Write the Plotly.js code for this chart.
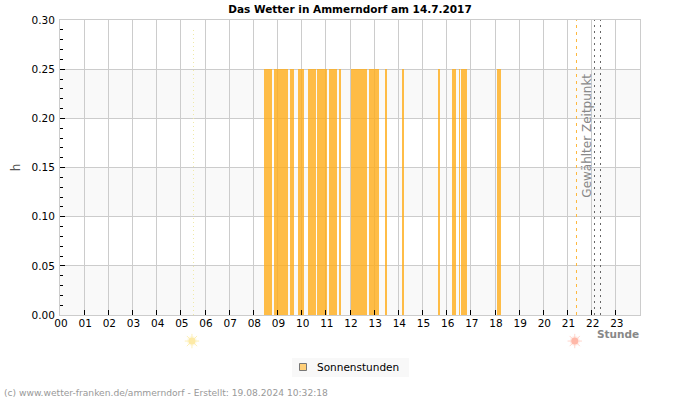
<!DOCTYPE html>
<html>
<head>
<meta charset="utf-8">
<script src="https://cdn.plot.ly/plotly-3.0.1.min.js"></script>
<style>html,body{margin:0;padding:0;background:#fff}#chart{width:700px;height:400px}</style>
</head>
<body>
<div id="chart"></div>
<script>
// Sunshine periods of the day: start and end in decimal hours
const sunStart = [8.44, 8.85, 9.51, 9.84, 10.26, 10.64, 11.13, 11.55, 12.04, 12.79, 13.45, 14.15, 15.64, 16.22, 16.49, 16.59, 18.08];
const sunEnd   = [8.77, 9.43, 9.68, 10.09, 10.59, 11.05, 11.46, 11.64, 12.70, 13.21, 13.53, 14.23, 15.72, 16.38, 16.55, 16.84, 18.25];
const sunValue = [0.25, 0.25, 0.25, 0.25, 0.25, 0.25, 0.25, 0.25, 0.25, 0.25, 0.25, 0.25, 0.25, 0.25, 0.25, 0.25, 0.25];

const hourTicks = [0,1,2,3,4,5,6,7,8,9,10,11,12,13,14,15,16,17,18,19,20,21,22,23];
const hourLabels = ['00','01','02','03','04','05','06','07','08','09','10','11','12','13','14','15','16','17','18','19','20','21','22','23'];

const bandLow = [0, 0.10, 0.20];
const bandHigh = [0.05, 0.15, 0.25];

const sunriseHour = 5.524;
const sunriseIconHour = 5.46;
const sunsetIconHour = 21.3;
const selectedHour = 21.372;
const markerHours = [22.117, 22.366];
const iconLevel = -0.0265;

const FONT = 'DejaVu Sans, sans-serif';
const SIZE = 10.5;

// Layout frame in page pixels
const W = 700, H = 400, L = 60, R = 640, T = 20, B = 315, AREA_B = 360;
const plotW = R - L, plotH = AREA_B - T;
const px = v => (v - L) / plotW;
const py = v => (AREA_B - v) / plotH;

// One glyph: faint halo, rays and a solid core on the strip below the axis
function sunGlyph(hour, halo, rays, core) {
  const base = {type: 'scatter', mode: 'markers', x: [hour], y: [iconLevel], xaxis: 'x2', yaxis: 'y2', showlegend: false, hoverinfo: 'skip'};
  return [
    Object.assign({}, base, {marker: {symbol: 'circle', size: 10, color: halo}}),
    Object.assign({}, base, {marker: {symbol: 'asterisk', size: 12, line: {color: rays, width: 1}}}),
    Object.assign({}, base, {marker: {symbol: 'circle', size: 7, color: core}})
  ];
}

const traces = [
  {
    type: 'bar',
    name: 'Sonnenstunden',
    x: sunStart.map((s, i) => (s + sunEnd[i]) / 2),
    width: sunStart.map((s, i) => sunEnd[i] - s),
    y: sunValue,
    marker: {color: 'rgba(255,172,25,0.8)', line: {width: 0}},
    showlegend: false,
    hoverinfo: 'skip'
  },
  ...sunGlyph(sunriseIconHour, 'rgba(253,236,170,0.25)', '#fdf0b8', '#fdeaa6'),
  ...sunGlyph(sunsetIconHour, 'rgba(255,190,175,0.25)', '#ffd6cc', '#ffb8a8')
];

const shapes = [];
bandLow.forEach((lo, i) => shapes.push({
  type: 'rect', xref: 'paper', x0: 0, x1: 1, yref: 'y', y0: lo, y1: bandHigh[i],
  fillcolor: '#f9f9f9', line: {width: 0}, layer: 'below'
}));
shapes.push({type: 'line', xref: 'x', x0: sunriseHour, x1: sunriseHour, yref: 'y', y0: 0, y1: 0.29,
  line: {color: '#efe9a8', width: 1, dash: '1px,3px'}, layer: 'above'});
shapes.push({type: 'line', xref: 'x', x0: selectedHour, x1: selectedHour, yref: 'y', y0: 0, y1: 0.30,
  line: {color: '#fdb93f', width: 1, dash: '3px,4px'}, layer: 'above'});
markerHours.forEach(h => shapes.push({type: 'line', xref: 'x', x0: h, x1: h, yref: 'y', y0: 0, y1: 0.30,
  line: {color: '#666666', width: 1, dash: '2px,4px'}, layer: 'above'}));
// Legend box and swatch
shapes.push({type: 'rect', xref: 'paper', yref: 'paper', x0: px(292), x1: px(409), y0: py(377), y1: py(358),
  fillcolor: '#f8f8f8', line: {width: 0}, layer: 'below'});
shapes.push({type: 'rect', xref: 'paper', yref: 'paper', x0: px(299.5), x1: px(306.5), y0: py(370.5), y1: py(363.5),
  fillcolor: '#ffcf78', line: {color: '#777777', width: 1}, layer: 'above'});

const layout = {
  width: W, height: H,
  margin: {l: L, r: W - R, t: T, b: H - AREA_B},
  paper_bgcolor: '#ffffff', plot_bgcolor: 'rgba(0,0,0,0)',
  font: {family: FONT, size: SIZE, color: '#000000'},
  title: {text: '<b>Das Wetter in Ammerndorf am 14.7.2017</b>', font: {family: FONT, size: SIZE, color: '#000'},
    x: 0.5, xanchor: 'center', y: 1 - 9 / H, yanchor: 'middle'},
  bargap: 0,
  showlegend: false,
  xaxis: {
    range: [0, 24], tickmode: 'array', tickvals: hourTicks, ticktext: hourLabels,
    anchor: 'y',
    ticks: 'inside', ticklen: 5, tickcolor: '#000', tickwidth: 1,
    ticklabelstandoff: -2, ticklabelshift: 1,
    showgrid: true, gridcolor: '#cccccc', gridwidth: 1, zeroline: false,
    showline: true, linecolor: '#cccccc', linewidth: 1, mirror: true,
    tickfont: {family: FONT, size: SIZE, color: '#000'}, tickangle: 0, fixedrange: true
  },
  yaxis: {
    domain: [(AREA_B - B) / plotH, 1],
    anchor: 'x',
    range: [0, 0.30], tickmode: 'linear', tick0: 0, dtick: 0.05, tickformat: '.2f',
    ticks: 'inside', ticklen: 5, tickcolor: '#000', tickwidth: 1,
    ticklabelstandoff: 2,
    minor: {dtick: 0.01, ticks: 'inside', ticklen: 3, tickcolor: '#000', tickwidth: 1, showgrid: false},
    showgrid: true, gridcolor: '#cccccc', gridwidth: 1, zeroline: false,
    showline: true, linecolor: '#cccccc', linewidth: 1, mirror: true,
    tickfont: {family: FONT, size: SIZE, color: '#000'},
    title: {text: 'h', font: {family: FONT, size: 12, color: '#555'}, standoff: 8}, fixedrange: true
  },
  // Strip under the hour axis that carries the sunrise and sunset glyphs
  xaxis2: {
    range: [0, 24], anchor: 'y2', visible: false, fixedrange: true
  },
  yaxis2: {
    domain: [0, (AREA_B - B) / plotH],
    range: [-(AREA_B - B) * 0.3 / (B - T), 0],
    anchor: 'x2', visible: false, fixedrange: true
  },
  shapes: shapes,
  annotations: [
    {xref: 'x', yref: 'y', x: selectedHour + 0.42, y: 0.182, text: 'Gewählter Zeitpunkt', textangle: -90, showarrow: false,
      xanchor: 'center', yanchor: 'middle', font: {family: FONT, size: 12, color: '#888888'}},
    {xref: 'paper', yref: 'paper', x: px(618), y: py(334), text: '<b>Stunde</b>', showarrow: false,
      xanchor: 'center', yanchor: 'middle', borderpad: 0, font: {family: FONT, size: SIZE, color: '#888888'}},
    {xref: 'paper', yref: 'paper', x: px(316), y: py(367), text: 'Sonnenstunden', showarrow: false,
      xanchor: 'left', yanchor: 'middle', borderpad: 0, font: {family: FONT, size: SIZE, color: '#000000'}},
    {xref: 'paper', yref: 'paper', x: px(2.5), y: py(393), text: '(c) www.wetter-franken.de/ammerndorf - Erstellt: 19.08.2024 10:32:18',
      showarrow: false, xanchor: 'left', yanchor: 'middle', borderpad: 0, font: {family: FONT, size: 9.15, color: '#999999'}}
  ]
};

Plotly.newPlot('chart', traces, layout, {displayModeBar: false, staticPlot: true});
</script>
</body>
</html>
